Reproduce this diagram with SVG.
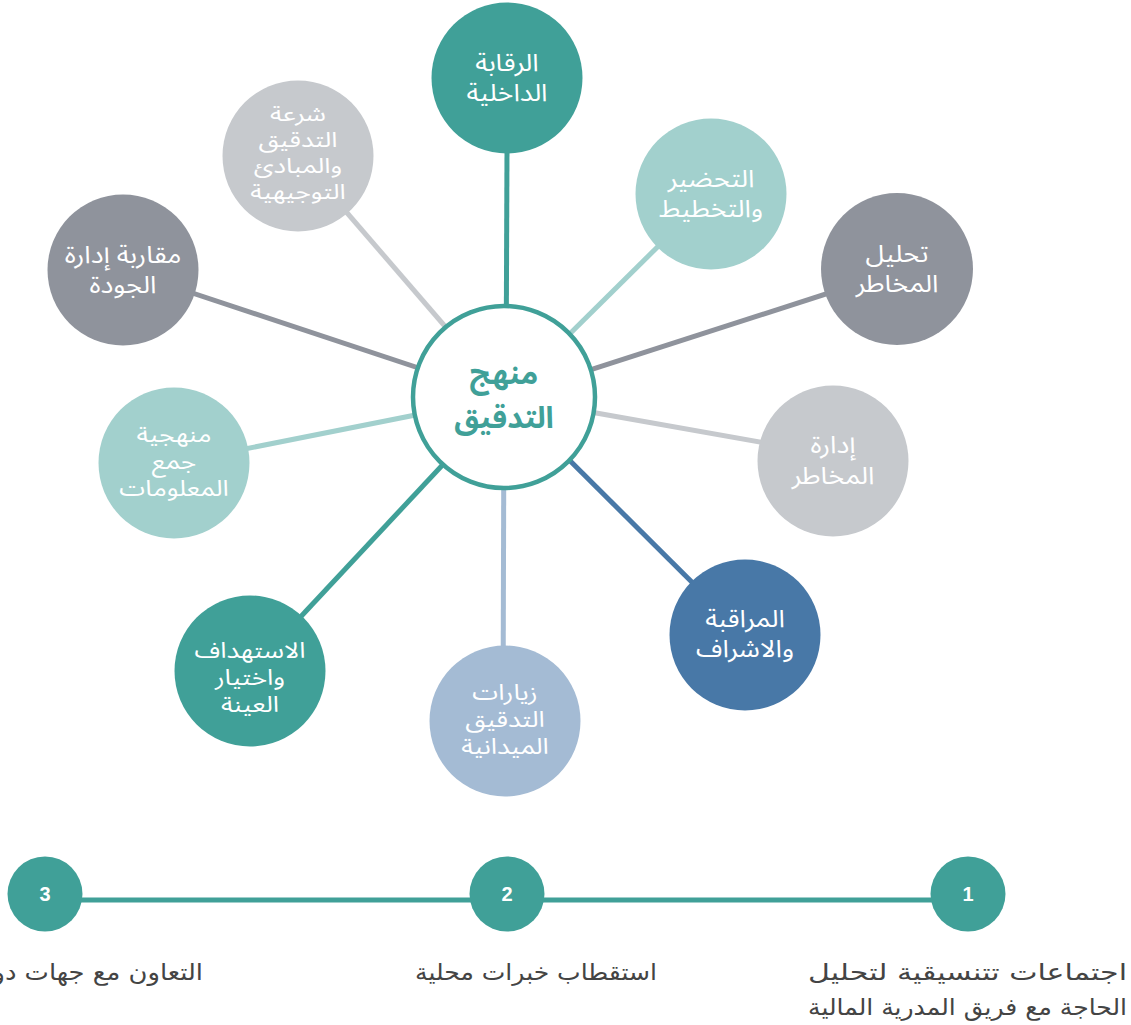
<svg xmlns="http://www.w3.org/2000/svg" width="1131" height="1025" viewBox="0 0 1131 1025">
<style>
.lbl{font-family:"Noto Sans Arabic","DejaVu Sans","Noto Sans",sans-serif;font-size:24px;fill:#ffffff;text-anchor:middle}
.sm{font-size:22px}
.xs{font-size:21px}
.ctr{font-family:"Noto Sans Arabic","DejaVu Sans","Noto Sans",sans-serif;font-size:30px;font-weight:bold;fill:#40a098;text-anchor:middle}
.num{font-family:"Liberation Sans","DejaVu Sans",sans-serif;font-size:20px;font-weight:bold;fill:#ffffff;text-anchor:middle}
.cap{font-family:"DejaVu Sans Condensed","DejaVu Sans",sans-serif;font-size:23px;fill:#444444}
.ln{stroke-width:5;fill:none}
.teal{fill:#40a098}.lteal{fill:#a2d0cd}.dgray{fill:#8f939c}.lgray{fill:#c6c9cd}.blue{fill:#4878a7}.lblue{fill:#a4bbd4}
</style>
<g id="connectors">
<line class="ln" x1="506" y1="397" x2="507" y2="150" stroke="#40a098"/>
<line class="ln" x1="506" y1="397" x2="711" y2="194" stroke="#a2d0cd"/>
<line class="ln" x1="506" y1="397" x2="897" y2="271" stroke="#8f939c"/>
<line class="ln" x1="506" y1="397" x2="833" y2="455" stroke="#c6c9cd"/>
<line class="ln" x1="506" y1="397" x2="745" y2="635" stroke="#4878a7"/>
<line class="ln" x1="504" y1="397" x2="503" y2="721" stroke="#a4bbd4"/>
<line class="ln" x1="506" y1="397" x2="250" y2="671" stroke="#40a098"/>
<line class="ln" x1="506" y1="397" x2="174" y2="463" stroke="#a2d0cd"/>
<line class="ln" x1="506" y1="397" x2="123" y2="270" stroke="#8f939c"/>
<line class="ln" x1="506" y1="397" x2="298" y2="156" stroke="#c6c9cd"/>
<line class="ln" x1="45" y1="900" x2="968" y2="900" stroke="#40a098"/>
</g>
<g id="center">
<circle cx="504" cy="397" r="91" fill="#ffffff" stroke="#40a098" stroke-width="4.5"/>
<text class="ctr" x="504" y="384">منهج</text>
<text class="ctr" x="504" y="428">التدقيق</text>
</g>
<g id="n-internal">
<circle class="teal" cx="507" cy="78" r="75.5"/>
<text class="lbl" transform="translate(507,71) scale(1.12,1)">الرقابة</text>
<text class="lbl" transform="translate(507,101) scale(1.12,1)">الداخلية</text>
</g>
<g id="n-planning">
<circle class="lteal" cx="711" cy="194" r="75.5"/>
<text class="lbl" transform="translate(711,187) scale(1.12,1)">التحضير</text>
<text class="lbl" transform="translate(711,217) scale(1.12,1)">والتخطيط</text>
</g>
<g id="n-riskanalysis">
<circle class="dgray" cx="897" cy="269" r="76"/>
<text class="lbl" transform="translate(897,262) scale(1.12,1)">تحليل</text>
<text class="lbl" transform="translate(897,292) scale(1.12,1)">المخاطر</text>
</g>
<g id="n-riskmgmt">
<circle class="lgray" cx="833" cy="461" r="75.5"/>
<text class="lbl" transform="translate(833,453) scale(1.12,1)">إدارة</text>
<text class="lbl" transform="translate(833,484) scale(1.12,1)">المخاطر</text>
</g>
<g id="n-monitoring">
<circle class="blue" cx="745" cy="635" r="75.5"/>
<text class="lbl" transform="translate(745,627) scale(1.12,1)">المراقبة</text>
<text class="lbl" transform="translate(745,657) scale(1.12,1)">والاشراف</text>
</g>
<g id="n-fieldvisits">
<circle class="lblue" cx="505" cy="721" r="75.5"/>
<text class="lbl sm" transform="translate(505,700) scale(1.19,1)">زيارات</text>
<text class="lbl sm" transform="translate(505,727) scale(1.19,1)">التدقيق</text>
<text class="lbl sm" transform="translate(505,754) scale(1.19,1)">الميدانية</text>
</g>
<g id="n-targeting">
<circle class="teal" cx="250" cy="671" r="75.5"/>
<text class="lbl sm" transform="translate(250,658) scale(1.19,1)">الاستهداف</text>
<text class="lbl sm" transform="translate(250,685) scale(1.19,1)">واختيار</text>
<text class="lbl sm" transform="translate(250,712) scale(1.19,1)">العينة</text>
</g>
<g id="n-datacollection">
<circle class="lteal" cx="174" cy="463" r="75.5"/>
<text class="lbl sm" transform="translate(174,442) scale(1.19,1)">منهجية</text>
<text class="lbl sm" transform="translate(174,469) scale(1.19,1)">جمع</text>
<text class="lbl sm" transform="translate(174,496) scale(1.19,1)">المعلومات</text>
</g>
<g id="n-quality">
<circle class="dgray" cx="123" cy="270" r="75.5"/>
<text class="lbl" transform="translate(123,263) scale(1.12,1)">مقاربة إدارة</text>
<text class="lbl" transform="translate(123,293) scale(1.12,1)">الجودة</text>
</g>
<g id="n-charter">
<circle class="lgray" cx="298" cy="156" r="75.5"/>
<text class="lbl xs" transform="translate(298,121) scale(1.24,1)">شرعة</text>
<text class="lbl xs" transform="translate(298,147) scale(1.24,1)">التدقيق</text>
<text class="lbl xs" transform="translate(298,173) scale(1.24,1)">والمبادئ</text>
<text class="lbl xs" transform="translate(298,199) scale(1.24,1)">التوجيهية</text>
</g>
<g id="step1">
<circle class="teal" cx="968" cy="894" r="37.5"/>
<text class="num" x="968" y="901">1</text>
<text class="cap" x="1127" y="980" text-anchor="end" textLength="319" lengthAdjust="spacingAndGlyphs">اجتماعات تتنسيقية لتحليل</text>
<text class="cap" x="1127" y="1015" text-anchor="end" textLength="319" lengthAdjust="spacingAndGlyphs">الحاجة مع فريق المدرية المالية</text>
</g>
<g id="step2">
<circle class="teal" cx="507" cy="894" r="37.5"/>
<text class="num" x="507" y="901">2</text>
<text class="cap" x="657" y="980" text-anchor="end" textLength="242" lengthAdjust="spacingAndGlyphs">استقطاب خبرات محلية</text>
</g>
<g id="step3">
<circle class="teal" cx="45" cy="894" r="37.5"/>
<text class="num" x="45" y="901">3</text>
<text class="cap" x="203" y="980" text-anchor="end" textLength="240" lengthAdjust="spacingAndGlyphs">التعاون مع جهات دولية</text>
</g>
</svg>
